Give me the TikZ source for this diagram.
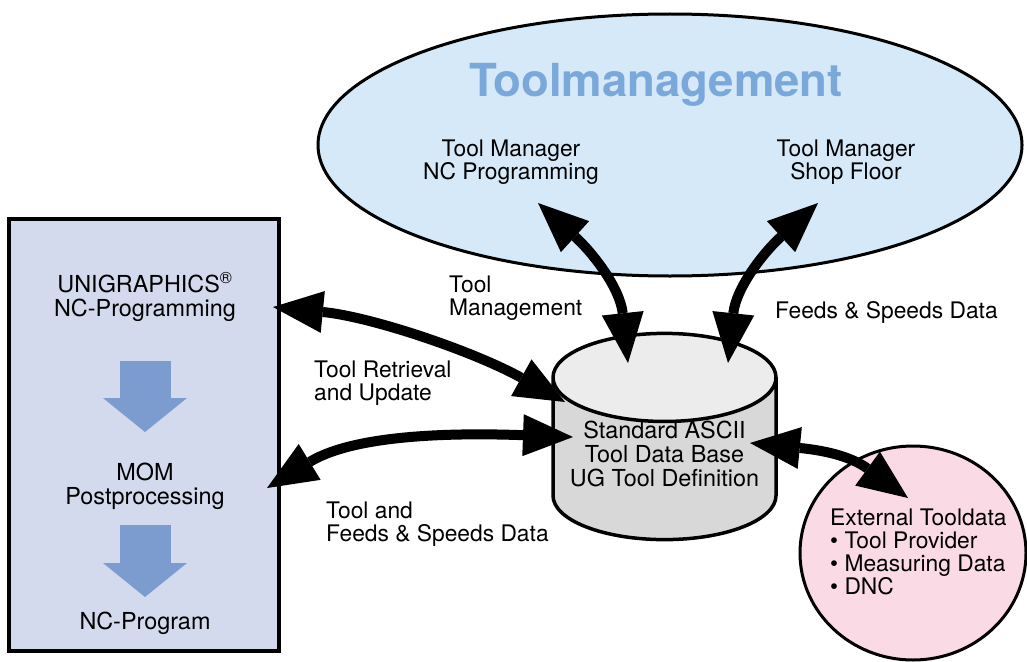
\documentclass[tikz,border=0pt]{standalone}
\usepackage{fontspec}
\setmainfont{TeX Gyre Heros}
\usetikzlibrary{arrows.meta, positioning, shapes.geometric}
\definecolor{ug_lavender}{RGB}{212, 218, 238}
\definecolor{flow_blue}{RGB}{124, 155, 207}
\definecolor{tm_skyblue}{RGB}{213, 233, 248}
\definecolor{tm_titleblue}{RGB}{122, 168, 218}
\definecolor{db_gray}{RGB}{216, 216, 216}
\definecolor{db_top}{RGB}{236, 236, 236}
\definecolor{ext_pink}{RGB}{250, 218, 228}
\tikzset{
    ug_box/.style={
        draw=black,
        fill=ug_lavender,
        line width=3.5pt,
        minimum width=270pt,
        minimum height=432pt,
        inner sep=0pt
    },
    ug_text/.style={
        align=center,
        inner sep=0pt,
        font=\fontsize{23.4}{24}\selectfont
    },
    tm_ellipse/.style={
        ellipse,
        draw=black,
        fill=tm_skyblue,
        line width=3pt,
        minimum width=704pt,
        minimum height=262pt,
        inner sep=0pt
    },
    tm_title/.style={
        inner sep=0pt,
        text=tm_titleblue,
        font=\fontsize{45.5}{48}\selectfont\bfseries
    },
    box_text/.style={
        align=center,
        inner sep=0pt,
        font=\fontsize{22.8}{23}\selectfont
    },
    flow_label/.style={
        align=left,
        anchor=west,
        inner sep=0pt,
        font=\fontsize{22.8}{23}\selectfont
    },
    db_cylinder/.style={
        cylinder,
        shape border rotate=90,
        aspect=0.466,
        anchor=shape center,
        draw=black,
        line width=3.5pt,
        cylinder uses custom fill,
        cylinder body fill=db_gray,
        cylinder end fill=db_top,
        minimum width=223pt,
        minimum height=187pt,
        inner sep=0pt,
        font=\fontsize{23.4}{22.6}\selectfont
    },
    ext_circle/.style={
        ellipse,
        draw=black,
        fill=ext_pink,
        line width=3pt,
        minimum width=226pt,
        minimum height=214pt,
        inner sep=0pt
    },
    flow_arrow/.style={
        -{Triangle[length=34pt,width=84pt,line width=0pt]},
        line width=51pt,
        draw=flow_blue
    },
    data_arrow/.style={
        {Triangle[length=50pt,width=42pt,line width=0pt]}-{Triangle[length=50pt,width=42pt,line width=0pt]},
        line width=10pt,
        draw=black
    }
}

\begin{document}
\begin{tikzpicture}[x=1pt, y=-1pt]
\useasboundingbox (0,0) rectangle (1027,661);

% Toolmanagement ellipse
\node[tm_ellipse] (tm) at (670,145) {};
\node[tm_title] (tmtitle) at (656,85) {Toolmanagement};
\node[box_text] (tmnc) at (511,162) {Tool Manager\\NC Programming};
\node[box_text] (tmsf) at (846,162) {Tool Manager\\Shop Floor};

% UG programming box
\node[ug_box] (ugbox) at (144,435) {};
\node[ug_text] (ug) at (145,297) {UNIGRAPHICS\textsuperscript{\textregistered}\\NC-Programming};
\node[ug_text] (mom) at (145,486) {MOM\\Postprocessing};
\node[ug_text] (ncp) at (145,623) {NC-Program};

% Process flow inside the box
\draw[flow_arrow] ([shift={(0,64)}]ug.center) -- ([shift={(0,-54)}]mom.center);
\draw[flow_arrow] ([shift={(0,39)}]mom.center) -- ([shift={(0,-26)}]ncp.center);

% Tool data base
\node[db_cylinder] (db) at (664.5,436.5) {\raisebox{2.5pt}[\height][\depth]{\begin{tabular}{@{}c@{}}Standard ASCII\\Tool Data Base\\UG Tool Definition\end{tabular}}};

% External tooldata
\node[ext_circle] (ext) at (913,553) {};
\node[flow_label] (extinfo) at (830,552) {External Tooldata\\\textbullet\ Tool Provider\\\textbullet\ Measuring Data\\\textbullet\ DNC};

% Connector labels
\node[flow_label] (lblmgmt) at (449,298) {Tool\\Management};
\node[flow_label] (lblfeeds) at (775,312) {Feeds \& Speeds Data};
\node[flow_label] (lblretrieval) at (314,383) {Tool Retrieval\\and Update};
\node[flow_label] (lbltoolfeeds) at (326,524) {Tool and\\Feeds \& Speeds Data};

% Data exchange arrows
\draw[data_arrow] ([shift={(129,-128)}]ugbox.center) .. controls +(100,10) and +(-90,-50) .. ([shift={(-99.5,-34.5)}]db.shape center);
\draw[data_arrow] ([shift={(123,53)}]ugbox.center) .. controls +(90,-55) and +(-110,-4) .. ([shift={(-91.5,0.5)}]db.shape center);
\draw[data_arrow] ([shift={(27,41)}]tmnc.center) .. controls +(55,50) and +(-8,-75) .. ([shift={(-36.5,-73.5)}]db.shape center);
\draw[data_arrow] ([shift={(-28,41)}]tmsf.center) .. controls +(-55,50) and +(8,-75) .. ([shift={(63.5,-73.5)}]db.shape center);
\draw[data_arrow] ([shift={(85.5,6.5)}]db.shape center) .. controls +(80,8) and +(-55,-40) .. ([shift={(-5,-55)}]ext.center);

\end{tikzpicture}
\end{document}
